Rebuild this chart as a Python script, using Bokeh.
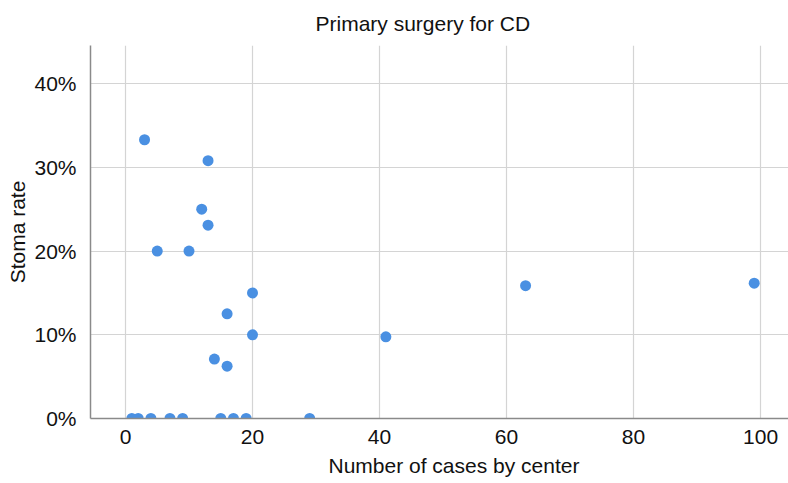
from bokeh.plotting import figure
from bokeh.models import Range1d, NumeralTickFormatter, FixedTicker, ColumnDataSource, Title
from bokeh.embed import file_html
from bokeh.resources import INLINE

# Data: number of cases by center and stoma rate (fraction)
cases = [3, 13, 12, 13, 5, 10, 20, 16, 20, 14, 16, 41, 63, 99,
         1, 2, 4, 7, 9, 15, 17, 19, 29]
stoma_rate = [0.333, 0.308, 0.25, 0.231, 0.20, 0.20, 0.15, 0.125, 0.10, 0.071, 0.0625, 0.0976, 0.1587, 0.1616,
              0, 0, 0, 0, 0, 0, 0, 0, 0]
x_ticks = [0, 20, 40, 60, 80, 100]
y_ticks = [0, 0.1, 0.2, 0.3, 0.4]
title_text = "Primary surgery for CD"
x_label_text = "Number of cases by center"
y_label_text = "Stoma rate"

FONT = "Liberation Sans"

p = figure(frame_width=698, frame_height=373, width=788, height=475,
           output_backend="svg", toolbar_location=None,
           x_range=Range1d(-5.51, 104.4), y_range=Range1d(0, 0.4456),
           min_border_left=90, min_border_right=0, min_border_top=45, min_border_bottom=57)

src = ColumnDataSource(dict(x=cases, y=stoma_rate))
p.scatter("x", "y", source=src, size=11, color="#4A90E2", line_color=None)

p.outline_line_color = None
p.background_fill_color = "white"
p.border_fill_color = "white"

for ax in (p.xaxis[0], p.yaxis[0]):
    ax.axis_line_color = "#8a8a8a"
    ax.axis_line_width = 1.5
    ax.major_tick_line_color = None
    ax.minor_tick_line_color = None
    ax.major_label_text_font = FONT
    ax.major_label_text_font_size = "21px"
    ax.major_label_text_color = "#111111"
    ax.axis_label_text_font = FONT
    ax.axis_label_text_font_size = "21px"
    ax.axis_label_text_font_style = "normal"
    ax.axis_label_text_color = "#111111"

p.xaxis.ticker = FixedTicker(ticks=x_ticks)
p.yaxis.ticker = FixedTicker(ticks=y_ticks)
p.yaxis.formatter = NumeralTickFormatter(format="0%")
p.yaxis.axis_label = y_label_text
p.xaxis.major_label_standoff = 5
p.yaxis.major_label_standoff = 8
p.yaxis.axis_label_standoff = 2

# Title (above) and x-axis caption (below), offset horizontally like the reference
top_title = Title(text=title_text, align="left", offset=225, vertical_align="top", standoff=18,
                  text_font=FONT, text_font_size="21px", text_font_style="normal", text_color="#111111")
p.add_layout(top_title, "above")
bottom_title = Title(text=x_label_text, align="left", offset=238, vertical_align="top", standoff=14,
                     text_font=FONT, text_font_size="21px", text_font_style="normal", text_color="#111111")
p.add_layout(bottom_title, "below")

p.xgrid.grid_line_color = "#d4d4d4"
p.ygrid.grid_line_color = "#d4d4d4"
p.xgrid.grid_line_width = 1.2
p.ygrid.grid_line_width = 1.2

open("out.html", "w").write(file_html(p, INLINE))
